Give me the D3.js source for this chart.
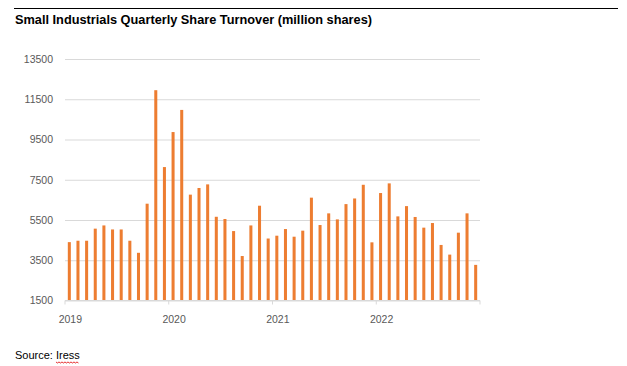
<!DOCTYPE html>
<html>
<head>
<meta charset="utf-8">
<script src="https://cdn.jsdelivr.net/npm/d3@7"></script>
<style>
  body { margin: 0; background: #ffffff; }
  svg { display: block; }
</style>
</head>
<body>
<div id="canvas1"></div>
<script>

// chart data, one bar per month, Jan 2019 .. Dec 2022
var years = ["2019", "2020", "2021", "2022"];
var turnover = [4400, 4470, 4470, 5070, 5230, 5030, 5030, 4470, 3870, 6310, 11950, 8130,
                9870, 10970, 6760, 7090, 7270, 5660, 5550, 4950, 3710, 5230, 6210, 4580,
                4720, 5050, 4670, 4970, 6610, 5250, 5830, 5530, 6290, 6570, 7250, 4390,
                6840, 7320, 5680, 6190, 5650, 5120, 5350, 4260, 3780, 4870, 5830, 3270];
var yTicks = [1500, 3500, 5500, 7500, 9500, 11500, 13500];
var title = "Small Industrials Quarterly Share Turnover (million shares)";
var source = "Source: Iress";

var width = 627;
var height = 366;
var plotLeft = 65;
var plotRight = 480;
var plotTop = 59;
var plotBottom = 300.5;
var axisGrey = "#595959";
var gridGrey = "#d9d9d9";
var barColor = "#ed7d31";

//Make an SVG Container
var svgContainer = d3.select("#canvas1").append("svg")
                     .attr("width", width)
                     .attr("height", height);

// scales
var months = d3.range(turnover.length);
var x = d3.scaleBand()
          .domain(months)
          .range([plotLeft, plotRight])
          .paddingInner(0.65)
          .paddingOuter(0.325);

var y = d3.scaleLinear()
          .domain([yTicks[0], yTicks[yTicks.length - 1]])
          .range([plotBottom, plotTop]);

// top rule and title
svgContainer.append("line")
            .attr("x1", 14)
            .attr("x2", 618)
            .attr("y1", 8.5)
            .attr("y2", 8.5)
            .attr("stroke", "#000")
            .attr("stroke-width", 1);

svgContainer.append("text").text(title)
            .attr("x", 15)
            .attr("y", 24)
            .attr("textLength", 357)
            .attr("lengthAdjust", "spacingAndGlyphs")
            .style("font-family", "'Liberation Sans', Arial, sans-serif")
            .style("font-weight", "bold")
            .style("font-size", "12.5px")
            .style("fill", "#000");

// gridlines + y labels
var yAxis = d3.axisLeft(y)
              .tickValues(yTicks)
              .tickSize(-(plotRight - plotLeft))
              .tickPadding(12)
              .tickFormat(d3.format("d"));

var yG = svgContainer.append("g")
                     .attr("transform", "translate(" + plotLeft + ",0)")
                     .call(yAxis);
yG.select(".domain").remove();
yG.selectAll(".tick line")
  .attr("stroke", gridGrey)
  .attr("stroke-width", 1);
yG.selectAll(".tick text")
  .style("font-family", "'Liberation Sans', Arial, sans-serif")
  .style("font-size", "10.5px")
  .style("fill", axisGrey);

// bars
svgContainer.append("g")
            .selectAll("rect")
            .data(turnover)
            .enter()
            .append("rect")
            .attr("x", function(d, i) { return x(i); })
            .attr("y", function(d) { return y(d); })
            .attr("width", x.bandwidth())
            .attr("height", function(d) { return y(yTicks[0]) - y(d); })
            .style("fill", barColor);

// x axis: year ticks at the start of each year, labels under January
var step = x.step();
var yearStarts = years.map(function(yr, i) { return plotLeft + i * 12 * step; });
yearStarts.push(plotRight);

var xG = svgContainer.append("g");
xG.append("line")
  .attr("x1", plotLeft)
  .attr("x2", plotRight)
  .attr("y1", plotBottom)
  .attr("y2", plotBottom)
  .attr("stroke", gridGrey);

xG.selectAll(".ytick")
  .data(yearStarts)
  .enter()
  .append("line")
  .attr("x1", function(d) { return d; })
  .attr("x2", function(d) { return d; })
  .attr("y1", plotBottom)
  .attr("y2", plotBottom + 4)
  .attr("stroke", gridGrey);

xG.selectAll(".ylabel")
  .data(years)
  .enter()
  .append("text")
  .text(function(d) { return d; })
  .attr("x", function(d, i) { return x(i * 12) + x.bandwidth() / 2 + 1; })
  .attr("y", plotBottom + 22)
  .attr("text-anchor", "middle")
  .style("font-family", "'Liberation Sans', Arial, sans-serif")
  .style("font-size", "10.5px")
  .style("fill", axisGrey);

// source note, with the spell-check squiggle under "Iress"
var src = svgContainer.append("text").text(source)
                      .attr("x", 15)
                      .attr("y", 359)
                      .style("font-family", "'Liberation Sans', Arial, sans-serif")
                      .style("font-size", "11px")
                      .style("fill", "#000");

var full = src.node().getComputedTextLength();
var head = src.node().getSubStringLength(0, 8);
var sq = d3.range(15 + head, 15 + full, 1.5);
svgContainer.append("path")
            .attr("d", d3.line()(sq.map(function(px, i) { return [px, 362 + (i % 2 ? 1 : 0)]; })))
            .attr("fill", "none")
            .attr("stroke", "#e00000")
            .attr("stroke-width", 0.8);

</script>
</body>
</html>
